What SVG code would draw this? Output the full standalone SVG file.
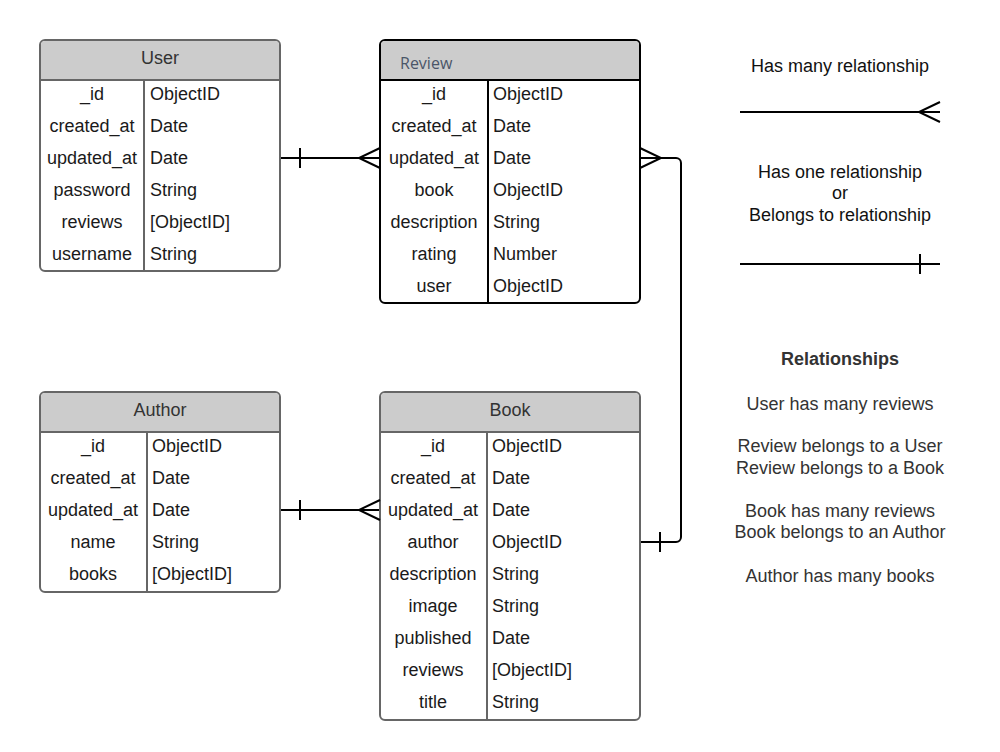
<svg xmlns="http://www.w3.org/2000/svg" width="1000" height="752" viewBox="0 0 1000 752">
<style>
text{font-family:"Liberation Sans",Arial,sans-serif;font-size:18px;fill:#1a1a1a}
.c{text-anchor:middle}
.h{fill:#333}
.box{fill:#fff;stroke:#666;stroke-width:2}
.hd{fill:#ccc}
.ln{stroke:#666;stroke-width:2;fill:none}
.sel{fill:#fff;stroke:#000;stroke-width:2}
.sl{stroke:#000;stroke-width:2;fill:none}
.cn{stroke:#000;stroke-width:2;fill:none}
.lg{fill:#111}
.rel{fill:#333;text-anchor:middle}
</style>
<rect width="1000" height="752" fill="#fff"/>

<g id="user">
<rect class="box" x="40" y="40" width="240" height="231" rx="5"/>
<path class="hd" d="M41 80V45a4 4 0 0 1 4-4h230a4 4 0 0 1 4 4v35z"/>
<line class="ln" x1="40" y1="80" x2="280" y2="80"/>
<line class="ln" x1="144" y1="80" x2="144" y2="271"/>
<text class="c h" x="160" y="64">User</text>
<text class="c" x="92" y="100">_id</text><text x="150" y="100">ObjectID</text>
<text class="c" x="92" y="132">created_at</text><text x="150" y="132">Date</text>
<text class="c" x="92" y="164">updated_at</text><text x="150" y="164">Date</text>
<text class="c" x="92" y="196">password</text><text x="150" y="196">String</text>
<text class="c" x="92" y="228">reviews</text><text x="150" y="228">[ObjectID]</text>
<text class="c" x="92" y="260">username</text><text x="150" y="260">String</text>
</g>

<g id="review">
<rect class="sel" x="380" y="40" width="260" height="263" rx="5"/>
<path class="hd" d="M381 80V45a4 4 0 0 1 4-4h250a4 4 0 0 1 4 4v35z"/>
<line class="sl" x1="380" y1="80" x2="640" y2="80"/>
<line class="sl" x1="488" y1="80" x2="488" y2="303"/>
<text x="400" y="69" style="font-family:'Open Sans',sans-serif;font-size:16px;fill:#4a5568">Review</text>
<text class="c" x="434" y="100">_id</text><text x="493" y="100">ObjectID</text>
<text class="c" x="434" y="132">created_at</text><text x="493" y="132">Date</text>
<text class="c" x="434" y="164">updated_at</text><text x="493" y="164">Date</text>
<text class="c" x="434" y="196">book</text><text x="493" y="196">ObjectID</text>
<text class="c" x="434" y="228">description</text><text x="493" y="228">String</text>
<text class="c" x="434" y="260">rating</text><text x="493" y="260">Number</text>
<text class="c" x="434" y="292">user</text><text x="493" y="292">ObjectID</text>
</g>

<g id="author">
<rect class="box" x="40" y="392" width="240" height="200" rx="5"/>
<path class="hd" d="M41 432V397a4 4 0 0 1 4-4h230a4 4 0 0 1 4 4v35z"/>
<line class="ln" x1="40" y1="432" x2="280" y2="432"/>
<line class="ln" x1="147" y1="432" x2="147" y2="592"/>
<text class="c h" x="160" y="416">Author</text>
<text class="c" x="93" y="452">_id</text><text x="152" y="452">ObjectID</text>
<text class="c" x="93" y="484">created_at</text><text x="152" y="484">Date</text>
<text class="c" x="93" y="516">updated_at</text><text x="152" y="516">Date</text>
<text class="c" x="93" y="548">name</text><text x="152" y="548">String</text>
<text class="c" x="93" y="580">books</text><text x="152" y="580">[ObjectID]</text>
</g>

<g id="book">
<rect class="box" x="380" y="392" width="260" height="328" rx="5"/>
<path class="hd" d="M381 432V397a4 4 0 0 1 4-4h250a4 4 0 0 1 4 4v35z"/>
<line class="ln" x1="380" y1="432" x2="640" y2="432"/>
<line class="ln" x1="487" y1="432" x2="487" y2="720"/>
<text class="c h" x="510" y="416">Book</text>
<text class="c" x="433" y="452">_id</text><text x="492" y="452">ObjectID</text>
<text class="c" x="433" y="484">created_at</text><text x="492" y="484">Date</text>
<text class="c" x="433" y="516">updated_at</text><text x="492" y="516">Date</text>
<text class="c" x="433" y="548">author</text><text x="492" y="548">ObjectID</text>
<text class="c" x="433" y="580">description</text><text x="492" y="580">String</text>
<text class="c" x="433" y="612">image</text><text x="492" y="612">String</text>
<text class="c" x="433" y="644">published</text><text x="492" y="644">Date</text>
<text class="c" x="433" y="676">reviews</text><text x="492" y="676">[ObjectID]</text>
<text class="c" x="433" y="708">title</text><text x="492" y="708">String</text>
</g>

<g id="connectors">
<path class="cn" d="M281 158H379M300 148V168M380 148L359 158L380 168"/>
<path class="cn" d="M281 510H379M300 500V520M380 500L359 510L380 520"/>
<path class="cn" d="M641 158H676a5 5 0 0 1 5 5V537a5 5 0 0 1-5 5H641M640 148L661 158L640 168M660 532V552"/>
</g>

<g id="legend">
<text class="c lg" x="840" y="72">Has many relationship</text>
<path class="cn" d="M740 112H940M940 102L919 112L940 122"/>
<text class="c lg" x="840" y="178">Has one relationship</text>
<text class="c lg" x="840" y="199">or</text>
<text class="c lg" x="840" y="221">Belongs to relationship</text>
<path class="cn" d="M740 264H940M920 254V274"/>
</g>

<g id="relationships">
<text class="rel" x="840" y="365" style="font-weight:bold">Relationships</text>
<text class="rel" x="840" y="410">User has many reviews</text>
<text class="rel" x="840" y="452">Review belongs to a User</text>
<text class="rel" x="840" y="474">Review belongs to a Book</text>
<text class="rel" x="840" y="517">Book has many reviews</text>
<text class="rel" x="840" y="538">Book belongs to an Author</text>
<text class="rel" x="840" y="582">Author has many books</text>
</g>
</svg>
